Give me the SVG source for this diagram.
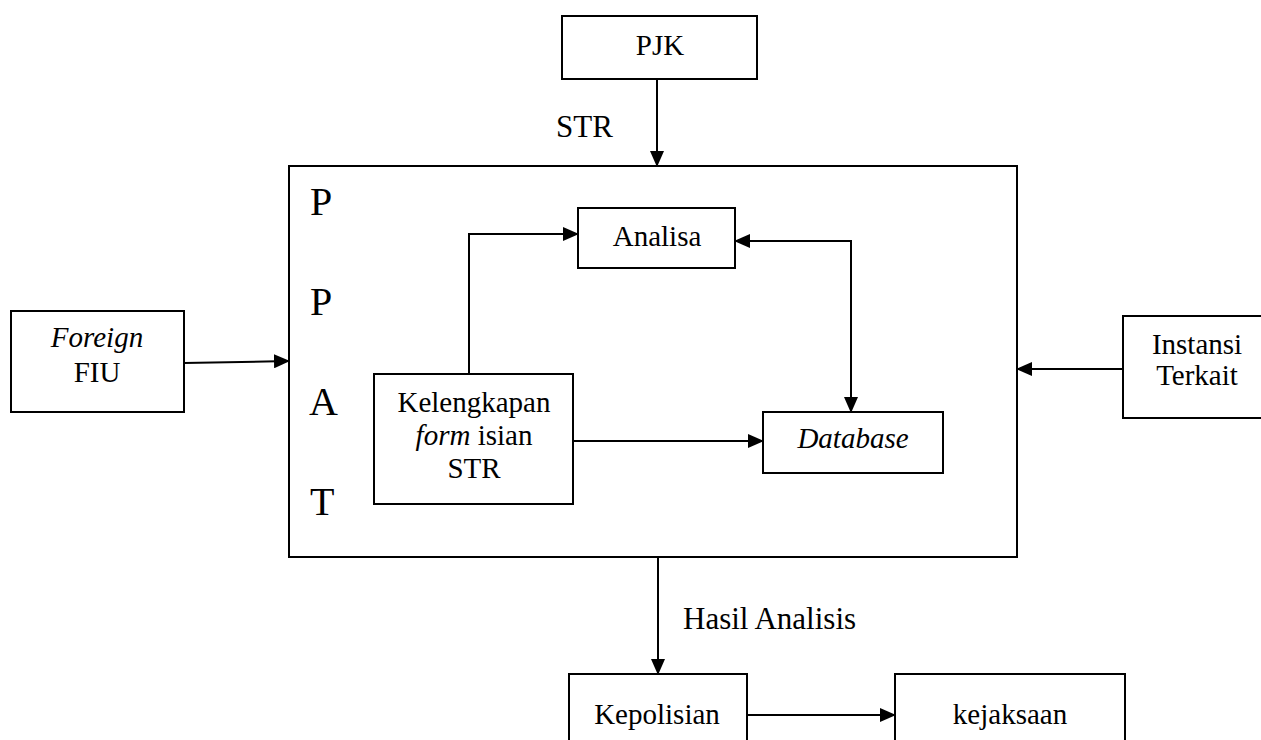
<svg xmlns="http://www.w3.org/2000/svg" width="1261" height="740" viewBox="0 0 1261 740">
<style>
.box{fill:#fff;stroke:#000;stroke-width:2}
.t{font-family:'Liberation Serif','Times New Roman',Times,'Noto Serif','DejaVu Serif',serif;font-size:29px;fill:#000;text-anchor:middle}
.lbl{font-family:'Liberation Serif','Times New Roman',Times,'Noto Serif','DejaVu Serif',serif;font-size:31px;fill:#000}
.big{font-family:'Liberation Serif','Times New Roman',Times,'Noto Serif','DejaVu Serif',serif;font-size:40px;fill:#000}
.i{font-style:italic}
.c{fill:none;stroke:#000;stroke-width:2}
</style>
<defs>
<marker id="ah" markerUnits="userSpaceOnUse" markerWidth="16" markerHeight="14" refX="15" refY="7" orient="auto-start-reverse" viewBox="0 0 16 14">
<path d="M0,0 L16,7 L0,14 Z" fill="#000"/>
</marker>
</defs>
<rect width="1261" height="740" fill="#fff"/>
<g id="ppatk">
<rect class="box" x="289" y="166" width="728" height="391"/>
<text class="big" font-family="Liberation Serif, serif" x="310" y="215">P</text>
<text class="big" font-family="Liberation Serif, serif" x="310" y="315">P</text>
<text class="big" font-family="Liberation Serif, serif" x="309" y="415">A</text>
<text class="big" font-family="Liberation Serif, serif" x="310" y="515">T</text>
</g>
<g id="pjk">
<rect class="box" x="562" y="16" width="195" height="63"/>
<text class="t" x="660" y="55">PJK</text>
</g>
<g id="analisa">
<rect class="box" x="578" y="208" width="157" height="60"/>
<text class="t" x="657" y="246">Analisa</text>
</g>
<g id="kelengkapan">
<rect class="box" x="374" y="374" width="199" height="130"/>
<text class="t" x="474" y="412">Kelengkapan</text>
<text class="t" x="474" y="445"><tspan class="i">form</tspan> isian</text>
<text class="t" x="474" y="478">STR</text>
</g>
<g id="database">
<rect class="box" x="763" y="412" width="180" height="61"/>
<text class="t i" x="853" y="448">Database</text>
</g>
<g id="foreign">
<rect class="box" x="11" y="311" width="173" height="101"/>
<text class="t i" x="97" y="347">Foreign</text>
<text class="t" x="97" y="382">FIU</text>
</g>
<g id="instansi">
<rect class="box" x="1123" y="316" width="145" height="102"/>
<text class="t" x="1197" y="354">Instansi</text>
<text class="t" x="1197" y="385">Terkait</text>
</g>
<g id="kepolisian">
<rect class="box" x="569" y="674" width="178" height="80"/>
<text class="t" x="657" y="724">Kepolisian</text>
</g>
<g id="kejaksaan">
<rect class="box" x="895" y="674" width="230" height="80"/>
<text class="t" x="1010" y="724">kejaksaan</text>
</g>
<g id="connectors">
<path class="c" d="M657,79 V166" marker-end="url(#ah)"/>
<path class="c" d="M184,363 L289,361" marker-end="url(#ah)"/>
<path class="c" d="M1123,369 H1017" marker-end="url(#ah)"/>
<path class="c" d="M469,374 V234 H578" marker-end="url(#ah)"/>
<path class="c" d="M573,441 H763" marker-end="url(#ah)"/>
<path class="c" d="M735,241 H851 V412" marker-start="url(#ah)" marker-end="url(#ah)"/>
<path class="c" d="M658,557 V674" marker-end="url(#ah)"/>
<path class="c" d="M747,715 H895" marker-end="url(#ah)"/>
<text class="lbl" x="556" y="137">STR</text>
<text class="lbl" x="683" y="629">Hasil Analisis</text>
</g>
</svg>
